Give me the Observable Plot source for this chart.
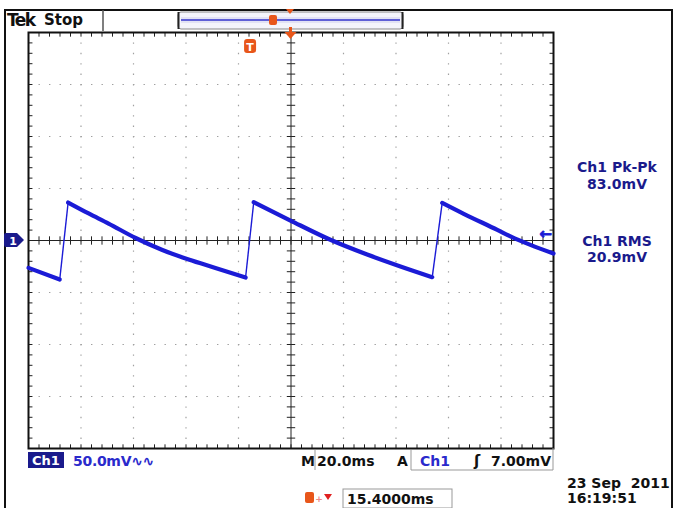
<!DOCTYPE html>
<html><head><meta charset="utf-8">
<script src="https://cdn.jsdelivr.net/npm/d3@7"></script>
<script src="https://cdn.jsdelivr.net/npm/@observablehq/plot@0.6"></script>
<style>
body{margin:0;background:#fff;}
svg{display:block}
</style>
</head><body><div id="chart"></div>
<script>
// ---- data (time in ms, voltage in mV) ----
const timeMs  = [-100.0, -88.1,  -84.9, -77.1, -69.5, -59.2, -49.0, -39.0, -28.8, -17.3,  -14.2, -0.2, 15.0, 29.0, 41.7, 53.8,  57.6, 65.8, 78.6, 83.6, 91.2, 100.0];
const voltMv  = [ -26.3, -37.5,   36.5,  26.0,  16.3,   2.4,  -9.1, -18.3, -26.4, -35.6,   36.8, 19.2,  0.7, -13.5, -25.0, -35.3,  36.2, 25.7, 10.2,  4.0, -4.2, -12.5];
const segment = [     0,     0,      1,     1,     1,     1,     1,     1,     1,     1,      2,    2,    2,    2,    2,    2,     3,    3,    3,    3,    3,     3];

// axis divisions (20 ms/div, 50 mV/div)
const xDivs = [-100, -80, -60, -40, -20, 0, 20, 40, 60, 80, 100];
const yDivs = [-200, -150, -100, -50, 0, 50, 100, 150, 200];
const xMinor = d3.range(-100, 100.01, 4);
const yMinor = d3.range(-200, 200.01, 10);

const triggerLevelMv = 7.0;
const triggerPosMs = -15.4;

const trace = timeMs.map((t, i) => ({t, v: voltMv[i], seg: segment[i]}));
const edges = [];
for (let i = 1; i < trace.length; i++) {
  if (trace[i].seg !== trace[i - 1].seg) edges.push({a: trace[i - 1], b: trace[i]});
}

const BLUE = "#1b1bd6";
const NAVY = "#1a1a8c";
const ORANGE = "#e8561a";

const plot = Plot.plot({
  width: 675, height: 508,
  marginLeft: 28, marginRight: 122, marginTop: 32, marginBottom: 60,
  x: {domain: [-100, 100], axis: null},
  y: {domain: [-200, 200], axis: null},
  style: {background: "transparent", fontFamily: "DejaVu Sans"},
  marks: [
    // dotted graticule
    Plot.ruleX(xDivs.filter(d => d !== 0 && Math.abs(d) !== 100), {stroke: "#a0a0a0", strokeWidth: 1.2, strokeDasharray: "1.4 9.0"}),
    Plot.ruleY(yDivs.filter(d => d !== 0 && Math.abs(d) !== 200), {stroke: "#a0a0a0", strokeWidth: 1.2, strokeDasharray: "1.4 9.1"}),
    // centre crosshair
    Plot.ruleX([0], {stroke: "#222", strokeWidth: 1}),
    Plot.ruleY([0], {stroke: "#222", strokeWidth: 1}),
    Plot.link(xMinor, {x1: d => d, x2: d => d, y1: -4, y2: 4, stroke: "#222", strokeWidth: 1}),
    Plot.link(yMinor, {y1: d => d, y2: d => d, x1: -1.6, x2: 1.6, stroke: "#222", strokeWidth: 1}),
    // border ticks
    Plot.link(xMinor, {x1: d => d, x2: d => d, y1: 200, y2: 196, stroke: "#222", strokeWidth: 1}),
    Plot.link(xMinor, {x1: d => d, x2: d => d, y1: -200, y2: -196, stroke: "#222", strokeWidth: 1}),
    Plot.link(yMinor, {y1: d => d, y2: d => d, x1: -100, x2: -98.5, stroke: "#222", strokeWidth: 1}),
    Plot.link(yMinor, {y1: d => d, y2: d => d, x1: 100, x2: 98.5, stroke: "#222", strokeWidth: 1}),
    Plot.frame({stroke: "#111", strokeWidth: 2}),
    // waveform
    Plot.link(edges, {x1: d => d.a.t, y1: d => d.a.v, x2: d => d.b.t, y2: d => d.b.v, stroke: BLUE, strokeWidth: 1.4}),
    Plot.line(trace, {x: "t", y: "v", z: "seg", stroke: BLUE, strokeWidth: 4.2, curve: "monotone-x"}),
    // trigger level arrow (right edge)
    Plot.text([triggerLevelMv], {x: 100, y: d => d, text: () => "←", dx: -8, dy: 1, fill: BLUE, stroke: BLUE, strokeWidth: 0.8, fontSize: 15, fontWeight: "bold"}),
  ]
});

document.getElementById("chart").appendChild(plot);
const svg = d3.select(plot);
const X = v => 28 + (v + 100) / 200 * 525;

// outer frame
svg.append("rect").attr("x", 5).attr("y", 10).attr("width", 667).attr("height", 510)
  .attr("fill", "none").attr("stroke", "#111").attr("stroke-width", 2);

const txt = (x, y, s, fill, size = 14, anchor = "start") => svg.append("text").attr("x", x).attr("y", y)
  .attr("text-anchor", anchor).attr("font-family", "DejaVu Sans").attr("font-weight", "bold")
  .attr("font-size", size).attr("fill", fill).text(s);

// header
txt(7, 26, "Tek", "#111", 17).attr("letter-spacing", -1.5);
txt(44, 25, "Stop", "#111", 15);
svg.append("line").attr("x1", 103).attr("x2", 103).attr("y1", 10).attr("y2", 31).attr("stroke", "#555").attr("stroke-width", 1.5);

// record view bar
svg.append("rect").attr("x", 178).attr("y", 12).attr("width", 225).attr("height", 17).attr("rx", 3)
  .attr("fill", "#f4f4fb").attr("stroke", "#888").attr("stroke-width", 1);
svg.append("rect").attr("x", 181).attr("y", 17).attr("width", 219).attr("height", 6).attr("fill", "#e2e2f4");
svg.append("line").attr("x1", 181).attr("x2", 400).attr("y1", 20).attr("y2", 20).attr("stroke", "#3333cc").attr("stroke-width", 1.6);
svg.append("line").attr("x1", 178.5).attr("x2", 178.5).attr("y1", 12).attr("y2", 29).attr("stroke", "#222").attr("stroke-width", 2);
svg.append("line").attr("x1", 402.5).attr("x2", 402.5).attr("y1", 12).attr("y2", 29).attr("stroke", "#222").attr("stroke-width", 2);
svg.append("rect").attr("x", 269).attr("y", 15).attr("width", 8).attr("height", 10).attr("rx", 2).attr("fill", ORANGE);
svg.append("path").attr("d", "M286,9 L294,9 L290,14 Z").attr("fill", ORANGE);

// trigger position marker on top graticule edge
svg.append("path").attr("d", `M${X(0) - 6},32 L${X(0) + 6},32 L${X(0)},39 Z`).attr("fill", ORANGE);
svg.append("rect").attr("x", X(0) - 1.5).attr("y", 27).attr("width", 3).attr("height", 5).attr("fill", ORANGE);
// T marker at trigger point
const tx = X(triggerPosMs);
svg.append("rect").attr("x", tx - 6).attr("y", 39).attr("width", 12).attr("height", 14).attr("rx", 3).attr("fill", ORANGE);
txt(tx, 50.5, "T", "#fff", 11, "middle");

// channel 1 ground marker
svg.append("path").attr("d", "M6,233 L17,233 L24,240 L17,247 L6,247 Q4,247 4,245 L4,235 Q4,233 6,233 Z").attr("fill", NAVY);
txt(13, 244.5, "1", "#fff", 11, "middle");

// measurements on the right
[["Ch1 Pk-Pk", 172], ["83.0mV", 189], ["Ch1 RMS", 246], ["20.9mV", 262]]
  .forEach(([s, y]) => txt(617, y, s, NAVY, 14, "middle"));

// bottom readouts
svg.append("rect").attr("x", 28).attr("y", 452).attr("width", 36).attr("height", 16).attr("fill", NAVY);
txt(46, 465, "Ch1", "#fff", 13, "middle");
txt(73, 466, "50.0mV∿∿", "#2a2acc", 14).attr("letter-spacing", -0.3);
txt(301, 466, "M", "#111", 14);
svg.append("line").attr("x1", 315).attr("x2", 315).attr("y1", 450).attr("y2", 470).attr("stroke", "#999");
txt(317, 466, "20.0ms", "#111", 14);
txt(397, 466, "A", "#111", 14);
svg.append("path").attr("d", "M411,450 L411,470 L553,470 L553,448").attr("fill", "none").attr("stroke", "#999");
txt(420, 466, "Ch1", "#2a2acc", 14);
txt(474, 466, "ʃ", "#111", 15);
txt(551, 466, "7.00mV", "#111", 14, "end");

// horizontal position readout
svg.append("rect").attr("x", 305).attr("y", 492).attr("width", 9).attr("height", 11).attr("rx", 2).attr("fill", ORANGE);
txt(319, 502, "+", "#e88", 9, "middle");
svg.append("path").attr("d", "M324,494 L332,494 L328,500 Z").attr("fill", "#e02020");
svg.append("rect").attr("x", 343).attr("y", 489).attr("width", 109).attr("height", 19).attr("fill", "none").attr("stroke", "#999");
txt(347, 504, "15.4000ms", "#111", 14);

// date/time
txt(567, 488, "23 Sep  2011", "#111", 14).style("white-space", "pre");
txt(567, 503, "16:19:51", "#111", 14);
</script>
</body></html>
